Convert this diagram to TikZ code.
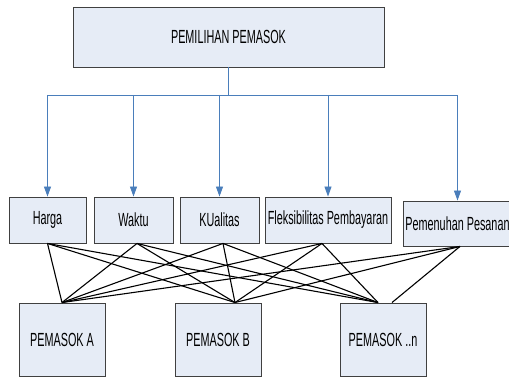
\documentclass[tikz,border=0pt]{standalone}
\usepackage{fontspec}
\setmainfont[FakeStretch=0.57]{Liberation Sans}
\usetikzlibrary{arrows.meta,calc}
\definecolor{boxfill}{HTML}{E6ECF6}
\definecolor{busblue}{HTML}{4A7EBB}
\tikzset{
  box/.style={draw=black!75, line width=0.9pt, fill=boxfill, inner sep=0pt,
    font=\fontsize{19}{22}\selectfont, align=center},
  bus/.style={draw=busblue, line width=0.9pt},
  busarrow/.style={bus, -{Triangle[width=7pt,length=10pt]}},
  link/.style={draw=black, line width=1.1pt}
}
\begin{document}
\begin{tikzpicture}[x=1pt,y=-1pt]
\useasboundingbox (0,0) rectangle (509,377);

% top box
\node[box, minimum width=311pt, minimum height=60pt] (top) at (228.5,37) {PEMILIHAN PEMASOK};

% criteria
\node[box, minimum width=77pt,  minimum height=46pt] (harga) at (47.5,220) {Harga};
\node[box, minimum width=79pt,  minimum height=46pt] (waktu) at (133.5,220) {Waktu};
\node[box, minimum width=79pt,  minimum height=46pt] (kual)  at (219.5,220) {KUalitas};
\node[box, minimum width=126pt, minimum height=46pt] (fleks) at (328,220) {Fleksibilitas Pembayaran};
\node[box, minimum width=109pt, minimum height=45pt] (pem)   at (457.5,223.5) {Pemenuhan Pesanan};

% suppliers
\node[box, minimum width=86pt, minimum height=73pt] (pA) at (62,339.5) {PEMASOK A};
\node[box, minimum width=86pt, minimum height=73pt] (pB) at (218,339.5) {PEMASOK B};
\node[box, minimum width=86pt, minimum height=73pt] (pN) at (383,339.5) {PEMASOK ..n};

% distribution bus
\coordinate (junction) at (228.5,95);
\draw[bus] (top.south) -- (junction);
\draw[bus] (harga.north |- junction) -- (pem.north |- junction);
\foreach \n in {harga,waktu,kual,fleks,pem}
  \draw[busarrow] (\n.north |- junction) -- (\n.north);

% attachment points
\coordinate (hS) at (harga.south);
\coordinate (wS) at ($(waktu.south)+(3.5,0)$);
\coordinate (kS) at ($(kual.south)+(3.5,0)$);
\coordinate (fS) at ($(fleks.south)+(-6,0)$);
\coordinate (pS) at ($(pem.south)+(2.5,0)$);
\coordinate (aT) at (pA.north);
\coordinate (bT) at ($(pB.north)+(17,0)$);
\coordinate (nT) at ($(pN.north)+(-5,0)$);
\coordinate (nT2) at ($(pN.north)+(9,0)$);

% criteria to suppliers
\foreach \c in {hS,wS,kS,fS}{
  \draw[link] (\c) -- (aT);
  \draw[link] (\c) -- (bT);
  \draw[link] (\c) -- (nT);
}
\draw[link] (pS) -- (aT);
\draw[link] (pS) -- (bT);
\draw[link] (pS) -- (nT2);
\end{tikzpicture}
\end{document}
